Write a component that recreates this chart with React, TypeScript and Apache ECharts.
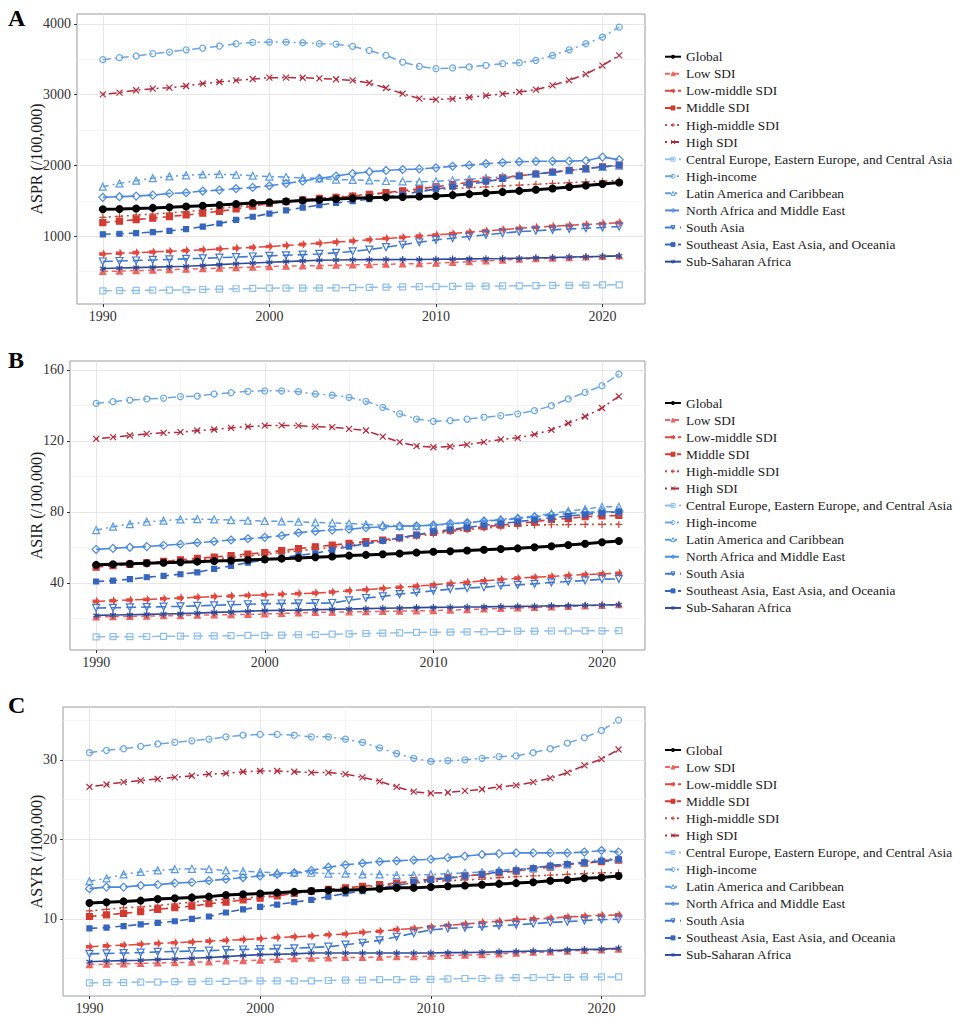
import React, { useEffect, useRef } from "react";
import * as echarts from "echarts";

const years = [1990,1991,1992,1993,1994,1995,1996,1997,1998,1999,2000,2001,2002,2003,2004,2005,2006,2007,2008,2009,2010,2011,2012,2013,2014,2015,2016,2017,2018,2019,2020,2021];

const regionNames = ["Global","Low SDI","Low-middle SDI","Middle SDI","High-middle SDI","High SDI","Central Europe, Eastern Europe, and Central Asia","High-income","Latin America and Caribbean","North Africa and Middle East","South Asia","Southeast Asia, East Asia, and Oceania","Sub-Saharan Africa"];

// ---------- Panel A: ASPR ----------
const aspr_global = [1380,1385,1392,1400,1410,1420,1430,1442,1455,1468,1480,1492,1505,1515,1525,1535,1543,1550,1555,1560,1567,1580,1595,1610,1625,1640,1657,1675,1695,1715,1738,1758];
const aspr_low = [502,508,515,521,528,535,542,550,557,564,572,577,581,586,590,595,599,604,609,614,619,630,641,652,663,675,683,691,699,707,715,722];
const aspr_lowMid = [750,759,768,778,787,797,808,819,831,842,854,869,885,901,917,933,950,967,984,1001,1018,1037,1056,1075,1094,1112,1126,1140,1153,1166,1179,1192];
const aspr_middle = [1192,1213,1234,1256,1278,1300,1326,1352,1385,1425,1462,1490,1515,1535,1550,1565,1590,1615,1642,1670,1699,1730,1761,1792,1823,1854,1879,1904,1929,1954,1979,2004];
const aspr_highMid = [1267,1282,1298,1314,1330,1347,1370,1393,1416,1440,1464,1488,1512,1535,1555,1575,1592,1610,1627,1644,1661,1673,1685,1697,1710,1722,1734,1745,1756,1767,1778,1790];
const aspr_high = [3004,3028,3061,3084,3098,3122,3155,3178,3201,3220,3239,3240,3238,3228,3216,3201,3164,3093,3013,2943,2929,2940,2962,2985,3010,3037,3070,3131,3201,3290,3410,3553];
const aspr_ceeca = [229,232,235,238,240,243,248,253,258,263,267,268,268,268,271,275,278,281,284,287,290,292,294,296,298,300,302,305,307,309,312,314];
const aspr_highInc = [3493,3521,3545,3578,3601,3633,3657,3685,3718,3737,3741,3741,3732,3718,3712,3680,3624,3553,3459,3398,3366,3376,3390,3413,3437,3450,3484,3553,3633,3718,3812,3952];
const aspr_latam = [1700,1745,1785,1820,1845,1860,1872,1875,1868,1855,1843,1835,1825,1815,1800,1795,1788,1780,1775,1770,1775,1790,1805,1822,1840,1862,1885,1908,1932,1955,1978,1995];
const aspr_nafme = [1549,1558,1567,1581,1605,1614,1638,1652,1671,1689,1713,1746,1779,1816,1850,1885,1910,1928,1942,1950,1966,1988,2004,2024,2040,2051,2058,2060,2060,2066,2118,2080];
const aspr_sAsia = [643,650,657,665,672,680,688,697,706,714,723,731,740,750,765,785,812,845,880,915,948,972,996,1020,1043,1065,1078,1090,1102,1113,1124,1135];
const aspr_seAsia = [1027,1035,1045,1058,1075,1100,1135,1180,1230,1275,1320,1365,1405,1440,1470,1495,1525,1555,1590,1630,1665,1700,1735,1770,1810,1850,1880,1905,1930,1955,1980,2004];
const aspr_ssa = [545,551,557,563,569,575,587,599,611,622,632,642,652,660,664,667,669,670,671,672,674,677,680,683,686,690,695,700,706,711,716,722];

// ---------- Panel B: ASIR ----------
const asir_global = [50.1,50.4,50.7,51.0,51.3,51.6,51.9,52.2,52.5,52.9,53.2,53.6,54.0,54.4,54.8,55.3,55.7,56.1,56.5,57.0,57.5,57.8,58.2,58.6,59.0,59.4,60.0,60.6,61.3,62.0,62.8,63.5];
const asir_low = [20.7,20.9,21.0,21.2,21.4,21.5,21.7,21.9,22.0,22.2,22.4,22.7,23.0,23.3,23.4,23.6,23.7,23.9,24.0,24.2,24.3,24.6,24.9,25.2,25.5,25.8,26.1,26.4,26.7,27.0,27.3,27.6];
const asir_lowMid = [29.5,29.9,30.3,30.6,31.0,31.4,31.8,32.2,32.5,32.9,33.2,33.5,33.9,34.2,34.8,35.5,36.1,36.8,37.5,38.1,38.8,39.6,40.3,41.1,41.8,42.6,43.1,43.6,44.1,44.6,45.0,45.4];
const asir_middle = [48.8,49.6,50.4,51.2,52.0,52.9,53.7,54.5,55.3,56.2,57.0,58.1,59.2,60.3,61.2,62.2,63.2,64.1,65.3,66.9,68.4,69.5,70.6,71.6,72.5,73.4,74.4,75.7,76.2,77.2,77.7,77.9];
const asir_highMid = [49.5,49.9,50.4,50.9,51.5,52.0,52.8,53.5,54.3,55.1,56.0,57.0,58.0,59.0,60.0,61.0,62.2,63.5,64.8,66.2,67.6,68.8,69.9,70.8,71.6,72.2,72.5,72.7,72.8,72.9,72.9,72.9];
const asir_high = [121.1,122.1,123.0,123.9,124.5,124.9,125.8,126.4,127.3,128.0,128.6,128.7,128.6,128.0,127.7,126.7,125.8,122.4,119.3,117.0,116.4,116.8,117.9,119.3,120.8,121.7,123.6,126.2,129.9,133.7,138.5,145.1];
const asir_ceeca = [9.5,9.6,9.6,9.7,9.8,9.9,10.0,10.1,10.2,10.3,10.4,10.5,10.7,10.8,11.0,11.2,11.4,11.6,11.8,12.0,12.1,12.2,12.3,12.4,12.6,12.7,12.7,12.8,12.8,12.9,12.9,13.0];
const asir_highInc = [141.1,142.1,143.0,143.6,144.1,144.9,145.2,146.4,147.1,147.9,148.2,148.2,147.7,146.4,145.8,144.5,142.3,138.9,135.2,132.3,131.0,131.4,132.3,133.3,134.2,135.2,137.0,139.8,143.6,147.3,151.1,157.6];
const asir_latam = [69.7,71.6,73.1,74.4,75.0,75.7,75.9,75.7,75.3,75.0,74.8,74.6,74.4,74.0,73.8,73.4,72.9,72.5,72.1,71.9,72.5,72.9,73.8,74.8,75.7,76.6,77.6,79.0,80.4,81.5,82.8,82.8];
const asir_nafme = [58.8,59.4,60.0,60.4,61.1,61.7,62.6,63.3,64.1,64.8,65.6,66.5,68.2,69.1,69.7,70.2,71.0,71.6,71.9,72.1,72.5,73.4,73.8,74.8,75.3,76.2,77.2,78.1,79.0,79.6,80.0,80.0];
const asir_sAsia = [25.8,25.9,26.1,26.3,26.5,26.7,27.0,27.3,27.6,27.9,28.2,28.3,28.4,28.5,28.6,30.1,31.4,32.3,33.6,34.5,35.5,36.4,37.0,37.5,38.3,38.8,39.4,40.2,40.7,41.3,42.0,42.2];
const asir_seAsia = [40.7,41.2,42.0,43.1,43.9,44.8,45.9,47.8,49.5,51.4,52.9,54.2,55.4,56.6,58.5,60.4,62.0,63.6,65.3,67.0,68.8,70.0,71.2,72.3,73.4,74.4,75.5,76.6,77.6,78.5,79.3,80.0];
const asir_ssa = [21.6,21.8,22.0,22.2,22.4,22.6,22.9,23.3,23.6,24.0,24.3,24.5,24.6,24.8,25.0,25.2,25.4,25.6,25.8,26.0,26.1,26.2,26.3,26.4,26.6,26.7,26.8,27.0,27.1,27.3,27.5,27.6];

// ---------- Panel C: ASYR ----------
const asyr_global = [12.0,12.1,12.2,12.3,12.5,12.6,12.7,12.8,13.0,13.1,13.2,13.3,13.4,13.5,13.6,13.6,13.7,13.8,13.9,13.9,14.0,14.1,14.2,14.3,14.4,14.5,14.6,14.8,14.9,15.1,15.2,15.4];
const asyr_low = [4.25,4.3,4.35,4.4,4.45,4.5,4.55,4.6,4.7,4.75,4.8,4.9,5.0,5.05,5.1,5.15,5.15,5.2,5.25,5.25,5.3,5.4,5.45,5.5,5.6,5.7,5.8,5.85,5.95,6.05,6.1,6.2];
const asyr_lowMid = [6.5,6.6,6.7,6.8,6.9,7.0,7.1,7.2,7.3,7.4,7.5,7.65,7.75,7.85,8.0,8.1,8.3,8.45,8.65,8.8,9.0,9.2,9.35,9.55,9.7,9.9,10.0,10.1,10.25,10.35,10.45,10.5];
const asyr_middle = [10.3,10.5,10.7,10.9,11.2,11.4,11.6,11.9,12.1,12.4,12.6,12.9,13.2,13.5,13.7,13.9,14.1,14.3,14.5,14.8,15.0,15.2,15.4,15.6,15.8,16.0,16.3,16.5,16.8,17.0,17.2,17.4];
const asyr_highMid = [11.0,11.2,11.4,11.5,11.7,11.9,12.1,12.3,12.5,12.6,12.8,13.0,13.2,13.4,13.6,13.8,14.0,14.2,14.3,14.5,14.7,14.8,14.9,15.0,15.2,15.3,15.4,15.5,15.6,15.7,15.8,15.8];
const asyr_high = [26.6,26.9,27.2,27.4,27.6,27.8,28.0,28.2,28.3,28.5,28.6,28.6,28.5,28.4,28.4,28.2,27.8,27.3,26.6,26.0,25.8,25.9,26.1,26.3,26.6,26.8,27.2,27.7,28.4,29.3,30.1,31.3];
const asyr_ceeca = [1.95,2.0,2.0,2.05,2.05,2.1,2.1,2.15,2.15,2.2,2.2,2.2,2.2,2.2,2.25,2.3,2.3,2.35,2.35,2.4,2.4,2.45,2.5,2.5,2.55,2.6,2.6,2.65,2.65,2.7,2.7,2.7];
const asyr_highInc = [30.9,31.2,31.4,31.7,32.0,32.2,32.4,32.6,32.9,33.1,33.2,33.2,33.1,32.9,32.9,32.6,32.2,31.5,30.8,30.2,29.8,29.9,30.0,30.2,30.4,30.5,30.9,31.4,32.1,32.8,33.7,35.0];
const asyr_latam = [14.75,15.1,15.6,15.9,16.1,16.25,16.3,16.25,16.1,16.0,15.9,15.8,15.8,15.8,15.7,15.7,15.6,15.6,15.5,15.5,15.6,15.7,15.8,15.9,16.1,16.25,16.4,16.7,16.9,17.2,17.5,17.6];
const asyr_nafme = [13.8,14.0,14.0,14.2,14.3,14.5,14.6,14.8,15.0,15.2,15.4,15.6,15.8,16.1,16.5,16.8,17.0,17.2,17.3,17.4,17.5,17.7,17.9,18.1,18.2,18.3,18.3,18.3,18.3,18.4,18.6,18.4];
const asyr_sAsia = [5.6,5.65,5.7,5.75,5.85,5.9,5.95,6.0,6.1,6.15,6.2,6.25,6.3,6.4,6.5,6.75,7.0,7.3,7.75,8.2,8.6,8.8,8.9,9.0,9.15,9.25,9.4,9.55,9.65,9.8,9.9,9.95];
const asyr_seAsia = [8.8,8.9,9.1,9.3,9.5,9.7,10.0,10.3,10.8,11.2,11.5,11.8,12.1,12.4,12.8,13.2,13.5,13.9,14.2,14.6,14.9,15.1,15.4,15.6,15.9,16.1,16.4,16.7,16.9,17.1,17.3,17.5];
const asyr_ssa = [4.6,4.7,4.75,4.8,4.9,4.95,5.05,5.15,5.25,5.4,5.5,5.55,5.6,5.7,5.7,5.7,5.7,5.7,5.7,5.7,5.7,5.75,5.75,5.8,5.85,5.9,5.95,6.0,6.1,6.15,6.2,6.3];

// tick labels
const xMajorTicks = [1990, 2000, 2010, 2020];
const xMinorTicks = [1995, 2005, 2015];
const asprMajorTicks = [1000, 2000, 3000, 4000];
const asprMinorTicks = [500, 1500, 2500, 3500];
const asirMajorTicks = [40, 80, 120, 160];
const asirMinorTicks = [20, 60, 100, 140];
const asyrMajorTicks = [10, 20, 30];
const asyrMinorTicks = [5, 15, 25, 35];

const FONT = '"Liberation Serif", "Times New Roman", "DejaVu Serif", serif';

const PLUS = "path://M0,5L10,5M5,0L5,10";
const CROSS = "path://M1,1L9,9M9,1L1,9";
const STAR = "path://M5,0L5,10M0.7,2.5L9.3,7.5M0.7,7.5L9.3,2.5";
const RARROW = "path://M0,3L6,3L6,0L10,5L6,10L6,7L0,7Z";

const seriesStyles = [
  { color: "#000000", dash: "solid", symbol: "circle", size: 8, width: 3, filled: true },
  { color: "#EE6560", dash: [5, 4], symbol: "triangle", size: 6, width: 1.5, filled: true },
  { color: "#E4463D", dash: [9, 4], symbol: RARROW, size: 6, width: 1.5, filled: true },
  { color: "#D5392F", dash: [7, 5], symbol: "rect", size: 6, width: 1.6, filled: true },
  { color: "#C4483E", dash: [2, 4], symbol: PLUS, size: 7, width: 1.6, filled: true },
  { color: "#B3283B", dash: [2, 4, 8, 4], symbol: CROSS, size: 6, width: 1.5, filled: true },
  { color: "#8EC0EE", dash: [9, 5], symbol: "rect", size: 6, width: 1.5, filled: false },
  { color: "#68A6E6", dash: [8, 4, 2, 4], symbol: "circle", size: 6, width: 1.5, filled: false },
  { color: "#5B9BE4", dash: [6, 4, 2, 4], symbol: "triangle", size: 7, width: 1.5, filled: false },
  { color: "#4A89DD", dash: [14, 4], symbol: "diamond", size: 8, width: 1.6, filled: false },
  { color: "#3E77CF", dash: [10, 5], symbol: "triangle", size: 7, width: 1.6, filled: false, rotate: 180 },
  { color: "#3565BE", dash: [8, 5], symbol: "rect", size: 5, width: 1.6, filled: true },
  { color: "#2C4A9B", dash: "solid", symbol: STAR, size: 7, width: 1.6, filled: true },
];

const panels = [
  {
    label: "A", yName: "ASPR (/100,000)",
    values: [aspr_global, aspr_low, aspr_lowMid, aspr_middle, aspr_highMid, aspr_high, aspr_ceeca, aspr_highInc, aspr_latam, aspr_nafme, aspr_sAsia, aspr_seAsia, aspr_ssa],
    grid: { left: 77, top: 14, width: 568, height: 290 },
    yMin: 43, yMax: 4138, major: asprMajorTicks, minor: asprMinorTicks,
    nameGap: 33, legendTop: 49.7, labelY: 18,
  },
  {
    label: "B", yName: "ASIR (/100,000)",
    values: [asir_global, asir_low, asir_lowMid, asir_middle, asir_highMid, asir_high, asir_ceeca, asir_highInc, asir_latam, asir_nafme, asir_sAsia, asir_seAsia, asir_ssa],
    grid: { left: 70, top: 361, width: 575, height: 289 },
    yMin: 2.1, yMax: 165.0, major: asirMajorTicks, minor: asirMinorTicks,
    nameGap: 26, legendTop: 396, labelY: 360,
  },
  {
    label: "C", yName: "ASYR (/100,000)",
    values: [asyr_global, asyr_low, asyr_lowMid, asyr_middle, asyr_highMid, asyr_high, asyr_ceeca, asyr_highInc, asyr_latam, asyr_nafme, asyr_sAsia, asyr_seAsia, asyr_ssa],
    grid: { left: 63, top: 707, width: 582, height: 289 },
    yMin: 0.3, yMax: 36.65, major: asyrMajorTicks, minor: asyrMinorTicks,
    nameGap: 19, legendTop: 743, labelY: 705,
  },
];

const X_MIN = 1988.45;
const X_MAX = 2022.55;

const plainNumber = (v: number) => String(v);

function buildOption() {
  const grids: any[] = [];
  const xAxes: any[] = [];
  const yAxes: any[] = [];
  const series: any[] = [];
  const legends: any[] = [];
  const graphics: any[] = [];

  panels.forEach((p, g) => {
    grids.push({
      ...p.grid, show: true, borderColor: "#9A9A9A", borderWidth: 1,
      backgroundColor: "transparent", containLabel: false, outerBoundsMode: "none",
    });
    xAxes.push({
      type: "value", gridIndex: g, min: X_MIN, max: X_MAX, position: "bottom",
      axisLine: { show: false },
      axisTick: { show: true, length: 3, lineStyle: { color: "#333" }, customValues: xMajorTicks },
      axisLabel: { customValues: xMajorTicks, formatter: plainNumber, fontFamily: FONT, fontSize: 14, color: "#333", margin: 5 },
      splitLine: { show: true, lineStyle: { color: "#E6E6E6", width: 1 } },
    });
    xAxes.push({
      type: "value", gridIndex: g, min: X_MIN, max: X_MAX, position: "bottom",
      axisLine: { show: false },
      axisTick: { show: false, customValues: xMinorTicks },
      axisLabel: { show: false, customValues: xMinorTicks },
      splitLine: { show: true, lineStyle: { color: "#F1F1F1", width: 0.7 } },
    });
    yAxes.push({
      type: "value", gridIndex: g, min: p.yMin, max: p.yMax, position: "left",
      name: p.yName, nameLocation: "middle", nameGap: p.nameGap, nameMoveOverlap: false,
      nameTextStyle: { fontFamily: FONT, fontSize: 16, color: "#1a1a1a" },
      axisLine: { show: false },
      axisTick: { show: true, length: 3, lineStyle: { color: "#333" }, customValues: p.major },
      axisLabel: { customValues: p.major, formatter: plainNumber, fontFamily: FONT, fontSize: 14, color: "#333", margin: 6 },
      splitLine: { show: true, lineStyle: { color: "#E6E6E6", width: 1 } },
    });
    yAxes.push({
      type: "value", gridIndex: g, min: p.yMin, max: p.yMax, position: "left",
      axisLine: { show: false },
      axisTick: { show: false, customValues: p.minor },
      axisLabel: { show: false, customValues: p.minor },
      splitLine: { show: true, lineStyle: { color: "#F1F1F1", width: 0.7 } },
    });

    p.values.forEach((vals, k) => {
      const s: any = seriesStyles[k];
      series.push({
        type: "line",
        name: regionNames[k],
        xAxisIndex: 2 * g,
        yAxisIndex: 2 * g,
        data: years.map((yr, i) => [yr, vals[i]]),
        symbol: s.symbol,
        symbolSize: s.size,
        symbolRotate: s.rotate || 0,
        symbolKeepAspect: true,
        showSymbol: true,
        lineStyle: { color: s.color, width: s.width, type: s.dash },
        itemStyle: {
          color: s.filled ? s.color : "rgba(255,255,255,0)",
          borderColor: s.color,
          borderWidth: k === 0 ? 0 : 1.2,
        },
        z: k === 0 ? 4 : 3,
        silent: true,
        emphasis: { disabled: true },
      });
    });

    legends.push({
      data: regionNames.map((nm, k) => {
        const s: any = seriesStyles[k];
        return {
          name: nm,
          itemStyle: {
            color: s.filled ? s.color : "rgba(255,255,255,0)",
            borderColor: s.color,
            borderWidth: k === 0 ? 0 : 1,
          },
        };
      }),
      orient: "vertical",
      left: 664,
      top: p.legendTop,
      padding: 0,
      itemWidth: 16,
      itemHeight: 5,
      itemGap: 3.08,
      selectedMode: false,
      textStyle: { fontFamily: FONT, fontSize: 13.4, color: "#1a1a1a", lineHeight: 14 },
    });

    graphics.push({
      type: "text",
      x: 8,
      y: p.labelY,
      style: {
        text: p.label,
        fontFamily: FONT,
        fontWeight: "bold",
        fontSize: 24,
        fill: "#000",
        verticalAlign: "middle",
        align: "left",
      },
    });
  });

  return {
    animation: false,
    backgroundColor: "#ffffff",
    grid: grids,
    xAxis: xAxes,
    yAxis: yAxes,
    series,
    legend: legends,
    graphic: graphics,
    tooltip: { show: false },
  };
}

export default function App() {
  const ref = useRef<HTMLDivElement>(null);
  useEffect(() => {
    document.body.style.margin = "0";
    if (!ref.current) return;
    const chart = echarts.init(ref.current, null, { renderer: "svg" });
    chart.setOption(buildOption() as any);
    return () => chart.dispose();
  }, []);
  return <div ref={ref} style={{ width: 962, height: 1017 }} />;
}
